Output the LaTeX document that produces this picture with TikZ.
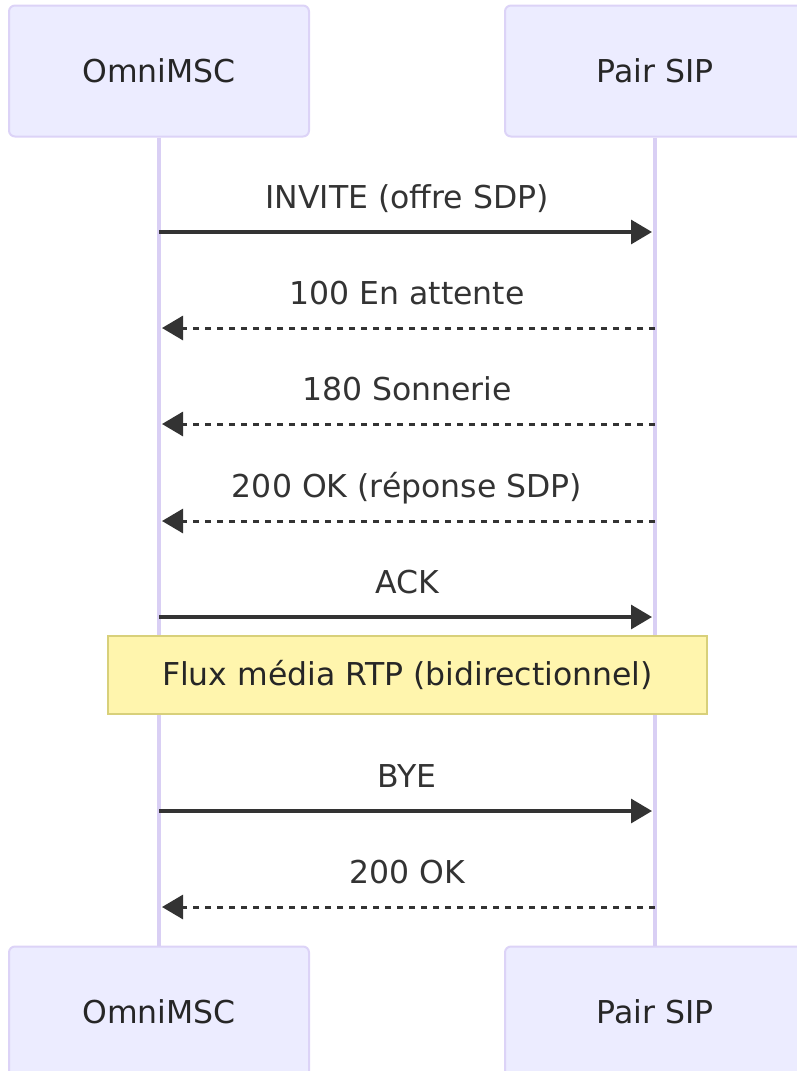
\documentclass[tikz,border=0pt]{standalone}
\usepackage{fontspec}
\setmainfont{DejaVu Sans}
\usetikzlibrary{arrows.meta,positioning}
\definecolor{actfill}{HTML}{ECECFF}
\definecolor{actline}{HTML}{DCD3F7}
\definecolor{lifeline}{HTML}{D9CFF4}
\definecolor{notefill}{HTML}{FFF5AD}
\definecolor{noteline}{HTML}{D8D07A}
\definecolor{msgcol}{HTML}{333333}

\begin{document}
\begin{tikzpicture}[x=1pt,y=-1pt,font=\fontsize{31.5}{38}\selectfont,
    actor/.style={draw=actline,fill=actfill,line width=2pt,rounded corners=6pt,
      minimum width=300pt,minimum height=131pt,text=black!85},
    life/.style={draw=lifeline,line width=3.2pt},
    msg/.style={draw=msgcol,line width=3.2pt,shorten >=3pt,
      -{Triangle[length=21pt,width=24pt]}},
    reply/.style={msg,line width=3pt,dash pattern=on 6pt off 6pt},
    lbl/.style={anchor=base,yshift=24pt,text=msgcol},
    notebox/.style={draw=noteline,fill=notefill,line width=2pt,
      minimum width=599pt,minimum height=78pt,text=black!85}]
  \useasboundingbox (0,0) rectangle (797,1071);
  % actors
  \node[actor] (omniT) at (159,71) {OmniMSC};
  \node[actor] (pairT) at (655,71) {Pair SIP};
  \node[actor] (omniB) at (159,1012) {OmniMSC};
  \node[actor] (pairB) at (655,1012) {Pair SIP};
  \draw[life] (omniT) -- (omniB);
  \draw[life] (pairT) -- (pairB);
  % message rows
  \coordinate (o1) at (159,232); \coordinate (p1) at (655,232);
  \coordinate (o2) at (159,328); \coordinate (p2) at (655,328);
  \coordinate (o3) at (159,424); \coordinate (p3) at (655,424);
  \coordinate (o4) at (159,521); \coordinate (p4) at (655,521);
  \coordinate (o5) at (159,617); \coordinate (p5) at (655,617);
  \coordinate (o6) at (159,811); \coordinate (p6) at (655,811);
  \coordinate (o7) at (159,907); \coordinate (p7) at (655,907);
  \draw[msg] (o1) -- node[lbl] (l1) {INVITE (offre SDP)} (p1);
  \draw[reply] (p2) -- node[lbl] (l2) {100 En attente} (o2);
  \draw[reply] (p3) -- node[lbl] (l3) {180 Sonnerie} (o3);
  \draw[reply] (p4) -- node[lbl] (l4) {200 OK (réponse SDP)} (o4);
  \draw[msg] (o5) -- node[lbl] (l5) {ACK} (p5);
  \node[notebox] (rtp) at (407.5,675) {Flux média RTP (bidirectionnel)};
  \draw[msg] (o6) -- node[lbl] (l6) {BYE} (p6);
  \draw[reply] (p7) -- node[lbl] (l7) {200 OK} (o7);
\end{tikzpicture}
\end{document}
